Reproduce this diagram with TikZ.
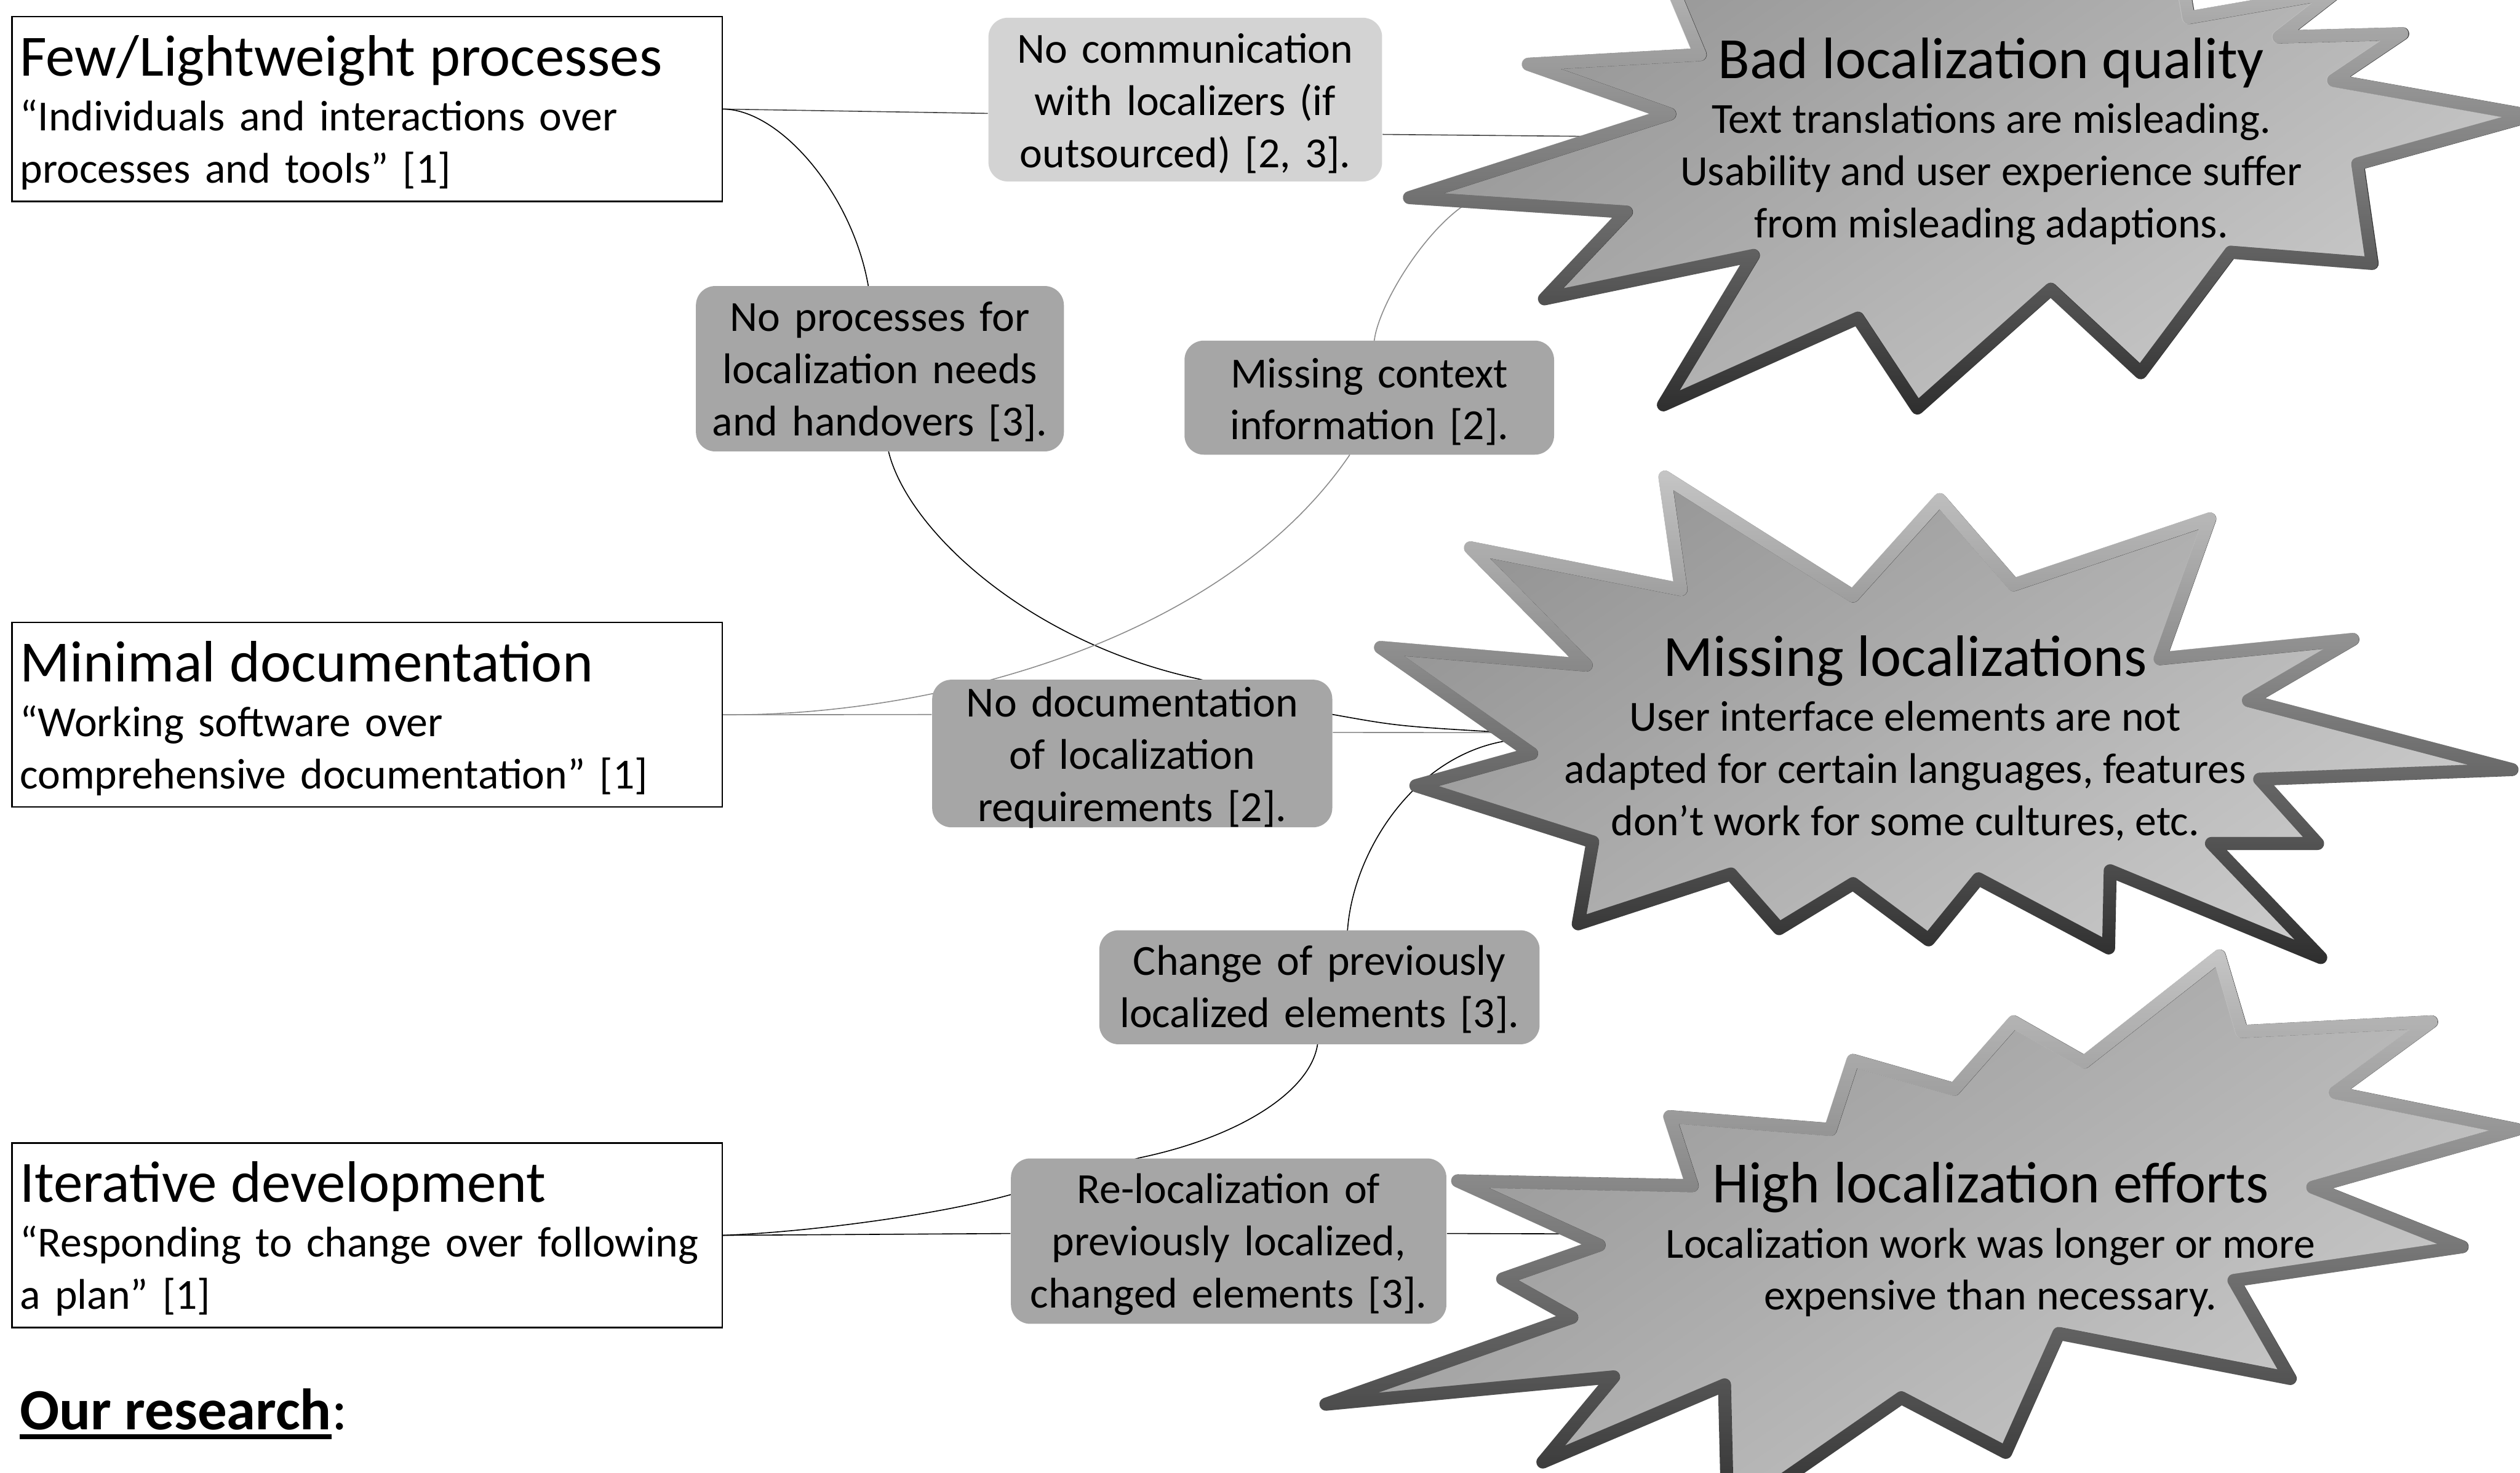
\documentclass[tikz,border=0pt]{standalone}
\usepackage{fontspec}
\setmainfont{Carlito}
\usepackage{tikz}
\usetikzlibrary{positioning}
\usetikzlibrary{fadings}
\usetikzlibrary{backgrounds}

\definecolor{issuegray}{HTML}{A6A6A6}
\definecolor{issuelight}{HTML}{D3D3D3}
\definecolor{stardark}{HTML}{969696}
\definecolor{starpale}{HTML}{CACACA}
\definecolor{rimdark}{HTML}{2E2E2E}
\definecolor{rimlight}{HTML}{C6C6C6}
\definecolor{linkgray}{HTML}{8C8C8C}

\newcommand{\ftitle}{\fontsize{20.7}{24.8}\selectfont}
\newcommand{\fbody}{\fontsize{15.2}{18.5}\selectfont}
\newcommand{\thickul}[1]{\setbox0\hbox{#1}\rlap{\rule[-3.4pt]{\wd0}{1.6pt}}\box0}

\tikzfading[name=rimfade, top color=transparent!0, bottom color=transparent!100]

\begin{document}
\begin{tikzpicture}[x=0.02cm, y=0.02cm,
  practice/.style={draw=black, line width=0.5pt, fill=white, anchor=north west, inner xsep=0.1cm, inner ysep=0pt, text width=8.64cm, text height=20.9pt, text depth=44.5pt, align=left, font=\fbody},
  issue/.style={fill=issuegray, rounded corners=0.24cm, align=center, font=\fbody, inner sep=0pt},
  burst/.style={top color=stardark, bottom color=starpale, shading angle=35, draw=rimdark, line width=4.6pt, line join=round, postaction={draw=rimlight, line width=4.6pt, line join=round, path fading=rimfade}},
  burstlabel/.style={align=center, font=\fbody, inner sep=0pt},
  link/.style={line width=0.35pt, black},
  graylink/.style={line width=0.35pt, linkgray}]
            \useasboundingbox (0,0) rectangle (1568,-916.6);
            \clip (0,0) rectangle (1568,-916.6);

            \node[practice] (few) at (7,-10) {{\ftitle Few/Lightweight processes}\\[1pt]“Individuals and interactions over\\processes and tools” [1]};
            \node[practice] (minimal) at (7,-387) {{\ftitle Minimal documentation}\\[1pt]“Working software over\\comprehensive documentation” [1]};
            \node[practice] (iterative) at (7,-711) {{\ftitle Iterative development}\\[1pt]“Responding to change over following\\a plan” [1]};
            \node[anchor=base west, inner sep=0pt, font=\ftitle] (research) at (12,-889.7) {\thickul{\textbf{Our research}}:};

            \node[issue, fill=issuelight, text width=4.9cm, text height=16pt, text depth=42pt] (nocomm) at (737.5,-62) {No communication\\with localizers (if\\outsourced) [2, 3].};
            \node[issue, text width=4.58cm, text height=16pt, text depth=42.6pt] (noproc) at (547.5,-229.5) {No processes for\\localization needs\\and handovers [3].};
            \node[issue, text width=4.6cm, text height=16.6pt, text depth=23.8pt] (context) at (852,-247.5) {Missing context\\information [2].};
            \node[issue, text width=4.98cm, text height=13.2pt, text depth=39.1pt] (nodoc) at (704.5,-469) {No documentation\\of localization\\requirements [2].};
            \node[issue, text width=5.48cm, text height=16pt, text depth=24.4pt] (change) at (821,-614.5) {Change of previously\\localized elements [3].};
            \node[issue, text width=5.42cm, text height=16pt, text depth=42.6pt] (reloc) at (764.5,-772.5) {Re-localization of\\previously localized,\\changed elements [3].};

            \coordinate (s1w) at (1000,-85);
            \coordinate (s1sw) at (912,-127);
            \coordinate (s2w) at (938,-456);
            \coordinate (s2sw) at (938,-461);
            \coordinate (s3w) at (985,-768);

            \begin{pgfonlayer}{background}
            \draw[line width=0.35pt, gray!55!black] (few.east) -- (nocomm.184) (nocomm.350) -- (s1w);
            \draw[link] (few.east) .. controls (485,-68) and (530,-120) .. (noproc.98) -- (noproc.276) .. controls (565,-330) and (640,-400) .. (nodoc.48) -- (nodoc.11) .. controls (870,-452) .. (s2w);
            \draw[graylink] (minimal.east) .. controls (580,-446) and (760,-400) .. (context.251) -- (context.85) .. controls (858,-190) and (885,-145) .. (s1sw);
            \draw[graylink] (minimal.east) -- (nodoc.169) (nodoc.6) -- (s2w);
            \draw[link] (s2sw) .. controls (880,-470) and (842,-530) .. (change.64) -- (change.268) .. controls (815,-680) and (770,-708) .. (reloc.137) -- (reloc.168) .. controls (580,-757) and (500,-767) .. (iterative.east);
            \draw[link] (iterative.east) -- (reloc.178) (reloc.2) -- (s3w);
            \end{pgfonlayer}

            \path[burst] (1058,-34) -- (1027,40) -- (1200,8) -- (1353,40) -- (1362,-11) -- (1454,5) -- (1418,-23) -- (1495,-21) -- (1452,-50) -- (1575,-72) -- (1467,-102) -- (1476,-164) -- (1388,-157) -- (1332,-232) -- (1276,-180) -- (1193,-254) -- (1156,-198) -- (1035,-252) -- (1091,-159) -- (961,-186) -- (1012,-132) -- (877,-123) -- (1039,-71) -- (951,-40) -- cycle;
            \path[burst] (1036,-297) -- (1153,-371) -- (1207,-311) -- (1253,-364) -- (1375,-323) -- (1344,-410) -- (1464,-398) -- (1399,-436) -- (1563,-479) -- (1406,-485) -- (1442,-525) -- (1376,-525) -- (1444,-596) -- (1313,-542) -- (1312,-590) -- (1231,-547) -- (1200,-585) -- (1153,-550) -- (1107,-578) -- (1077,-544) -- (982,-575) -- (991,-524) -- (881,-489) -- (953,-469) -- (859,-403) -- (987,-414) -- (915,-341) -- (1046,-367) -- cycle;
            \path[burst] (1381,-595) -- (1395,-642) -- (1513,-636) -- (1453,-680) -- (1566,-703) -- (1439,-739) -- (1532,-776) -- (1390,-797) -- (1425,-858) -- (1281,-830) -- (1248,-904) -- (1183,-870) -- (1075,-945) -- (1073,-862) -- (960,-910) -- (1004,-857) -- (825,-874) -- (978,-820) -- (935,-796) -- (995,-775) -- (907,-735) -- (1053,-738) -- (1039,-695) -- (1139,-703) -- (1153,-660) -- (1216,-678) -- (1253,-636) -- (1297,-661) -- cycle;

            \node[burstlabel] (quality) at (1239,-88) {{\ftitle Bad localization quality}\\[1pt]Text translations are misleading.\\Usability and user experience suffer\\from misleading adaptions.};
            \node[burstlabel] (missing) at (1185.5,-459.5) {{\ftitle Missing localizations}\\[1pt]User interface elements are not\\adapted for certain languages, features\\don’t work for some cultures, etc.};
            \node[burstlabel] (effort) at (1238.5,-771.5) {{\ftitle High localization efforts}\\[1pt]Localization work was longer or more\\expensive than necessary.};
\end{tikzpicture}
\end{document}
